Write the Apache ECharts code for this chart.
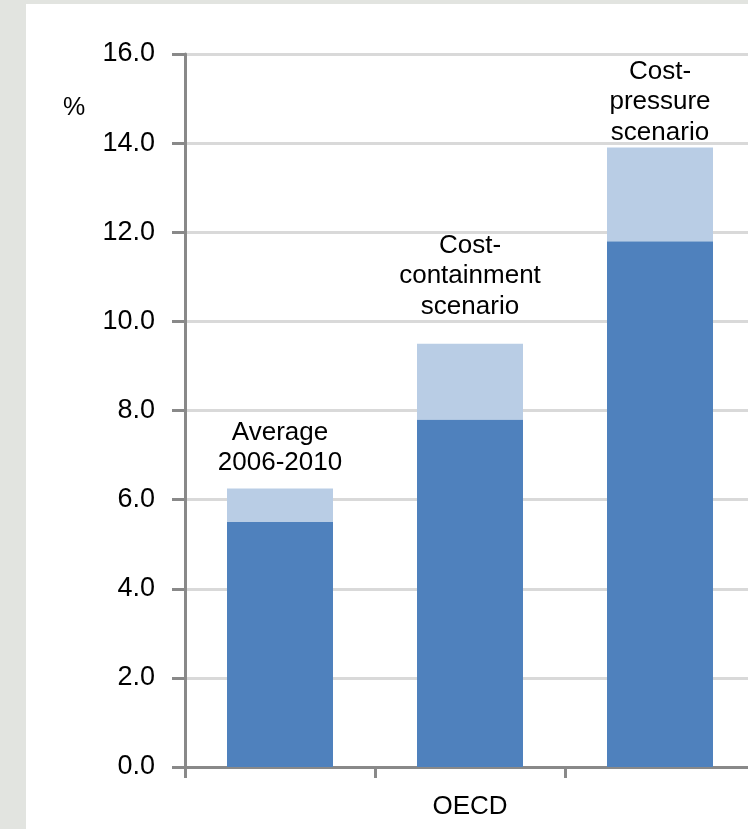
<!DOCTYPE html>
<html>
<head>
<meta charset="utf-8">
<script src="https://cdn.jsdelivr.net/npm/echarts@6/dist/echarts.min.js"></script>
<style>
  html, body { margin: 0; padding: 0; background: #e2e4e0; overflow: hidden; width: 748px; height: 829px; }
  #wrap { position: absolute; left: 26px; top: 4px; right: 0; bottom: 0; background: #ffffff; }
  #chart { position: absolute; left: 0; top: 0; width: 760px; height: 829px; }
</style>
</head>
<body>
<div id="wrap"></div>
<div id="chart"></div>
<script>
// Scenarios shown along the OECD axis
const scenarios = ['Average 2006-2010', 'Cost-containment scenario', 'Cost-pressure scenario'];
const barLabels = ['Average\n2006-2010', 'Cost-\ncontainment\nscenario', 'Cost-\npressure\nscenario'];
// Lower (dark) part of each bar and the upper (light) increment, in %
const baseValues = [5.5, 7.8, 11.8];
const extraValues = [0.75, 1.7, 2.1];
// Gap between each bar top and its caption, px
const labelGaps = [10, 22, 0];
const yTicks = { min: 0, max: 16, interval: 2 };

const chart = echarts.init(document.getElementById('chart'), null, { renderer: 'canvas' });
const font = '"Liberation Sans", Arial, sans-serif';

chart.setOption({
  backgroundColor: 'transparent',
  animation: false,
  // the plot area runs slightly past the right edge of the visible page
  grid: { left: 185, top: 54, bottom: 62, right: 5, containLabel: false },
  xAxis: {
    type: 'category',
    data: scenarios,
    name: 'OECD',
    nameLocation: 'middle',
    nameGap: 27,
    nameTextStyle: { fontFamily: font, fontSize: 26, color: '#000' },
    axisLine: { lineStyle: { color: '#898989', width: 3 } },
    axisTick: { show: true, length: 11, lineStyle: { color: '#898989', width: 3 } },
    axisLabel: { show: false },
    splitLine: { show: false }
  },
  yAxis: {
    type: 'value',
    min: yTicks.min,
    max: yTicks.max,
    interval: yTicks.interval,
    axisLine: { show: true, lineStyle: { color: '#898989', width: 3 } },
    axisTick: { show: true, length: 13, lineStyle: { color: '#898989', width: 3 } },
    axisLabel: {
      margin: 30,
      fontFamily: font,
      fontSize: 27,
      color: '#000',
      formatter: v => v.toFixed(1)
    },
    splitLine: { show: true, lineStyle: { color: '#d9d9d9', width: 3 } }
  },
  series: [
    {
      type: 'bar',
      stack: 'total',
      data: baseValues,
      barWidth: 106,
      itemStyle: { color: '#4f81bd' }
    },
    {
      type: 'bar',
      stack: 'total',
      data: extraValues.map((v, i) => ({ value: v, label: { distance: labelGaps[i] } })),
      barWidth: 106,
      itemStyle: { color: '#b9cde5' },
      label: {
        show: true,
        position: 'top',
        fontFamily: font,
        fontSize: 26,
        lineHeight: 30.5,
        color: '#000',
        formatter: p => barLabels[p.dataIndex]
      }
    }
  ],
  graphic: [
    {
      type: 'text',
      left: 63,
      top: 96,
      style: { text: '%', fontFamily: font, fontSize: 25, fill: '#000' }
    }
  ]
});
</script>
</body>
</html>
